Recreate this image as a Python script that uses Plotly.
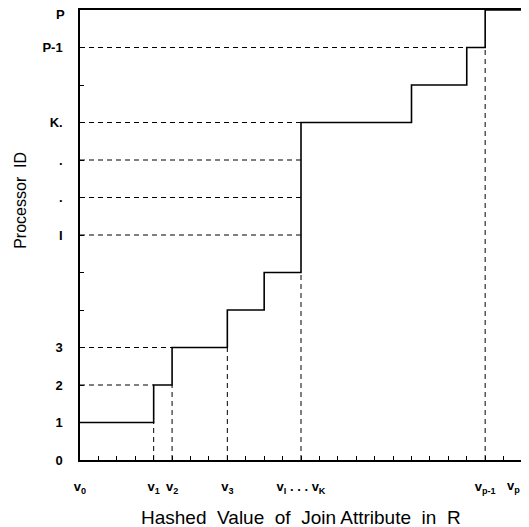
import plotly.graph_objects as go

# Step function: processor id as a function of hashed value
step_x = [0, 4, 5, 8, 10, 12, 18, 21, 22, 24]
step_y = [1, 2, 3, 4, 5, 9, 10, 11, 12, 12]

# dashed horizontal guides (level, x where they end)
h_levels = [2, 3, 6, 7, 8, 9, 11]
h_ends = [4, 5, 12, 12, 12, 12, 21]

# dashed vertical guides (x, level where they end)
v_pos = [4, 5, 8, 12, 22]
v_tops = [1, 2, 3, 5, 11]

y_tickvals = list(range(0, 13))
y_ticktext = ["0", "1", "2", "3", "", "", "I", ".", ".", "K.", "", "P-1", ""]
y_top_pos = 12
y_top_text = "P"

x_tickvals = list(range(0, 25))
x_label_pos = [0, 4, 5, 8, 12, 22]
x_label_text = ["v<sub>0</sub>", "v<sub>1</sub>", "v<sub>2</sub>", "v<sub>3</sub>",
                "v<sub>I</sub> . . . v<sub>K</sub>", "v<sub>p-1</sub>"]
x_last_pos = 24
x_last_text = "v<sub>p</sub>"
x_ticktext = [x_label_text[x_label_pos.index(v)] if v in x_label_pos else "" for v in x_tickvals]

font = dict(family="Liberation Sans, Arial, sans-serif", color="black")
tickfont = dict(family="Liberation Sans, Arial, sans-serif", color="black", size=13, weight="bold")

hx, hy = [], []
for lv, e in zip(h_levels, h_ends):
    hx += [0, e, None]
    hy += [lv, lv, None]
vx, vy = [], []
for p, t in zip(v_pos, v_tops):
    vx += [p, p, None]
    vy += [0, t, None]

fig = go.Figure()
fig.add_trace(go.Scatter(x=hx + vx, y=hy + vy, mode="lines",
                         line=dict(color="black", width=1, dash="5px,4px"),
                         hoverinfo="skip", showlegend=False))
fig.add_trace(go.Scatter(x=step_x, y=step_y, mode="lines", line_shape="hv",
                         line=dict(color="black", width=1.6),
                         showlegend=False))

fig.update_layout(
    width=521, height=519,
    margin=dict(l=72, r=7, t=2, b=67),
    plot_bgcolor="white", paper_bgcolor="white",
    font=font,
    xaxis=dict(range=[0, 24], tickvals=x_tickvals, ticktext=x_ticktext,
               ticks="inside", ticklen=4, tickcolor="black", tickwidth=1,
               showline=True, linecolor="black", linewidth=1.5, mirror=True,
               showgrid=False, zeroline=False, ticklabelstandoff=14,
               tickfont=tickfont, automargin=False),
    yaxis=dict(range=[0, 12], tickvals=y_tickvals, ticktext=y_ticktext,
               ticks="inside", ticklen=4, tickcolor="black", tickwidth=1,
               showline=True, linecolor="black", linewidth=1.5, mirror=True,
               showgrid=False, zeroline=False, ticklabelstandoff=13,
               tickfont=tickfont, automargin=False),
    annotations=[
        dict(text=x_last_text, xref="x", yref="paper", x=x_last_pos, y=0,
             xanchor="right", yanchor="top", xshift=0, yshift=-16,
             showarrow=False, font=tickfont),
        dict(text=y_top_text, xref="paper", yref="y", x=0, y=y_top_pos,
             xanchor="right", yanchor="middle", xshift=-13, yshift=-4,
             showarrow=False, font=tickfont),
        dict(text="Hashed  Value  of  Join Attribute  in  R", xref="paper", yref="paper",
             x=0.5, y=0, yshift=-57, showarrow=False, font=dict(size=19, **font),
             xanchor="center", yanchor="middle"),
        dict(text="Processor  ID", xref="paper", yref="paper", x=0, xshift=-59,
             y=0.576, showarrow=False, textangle=-90, font=dict(size=16, **font),
             xanchor="center", yanchor="middle"),
    ],
)

fig.write_html("out.html")
